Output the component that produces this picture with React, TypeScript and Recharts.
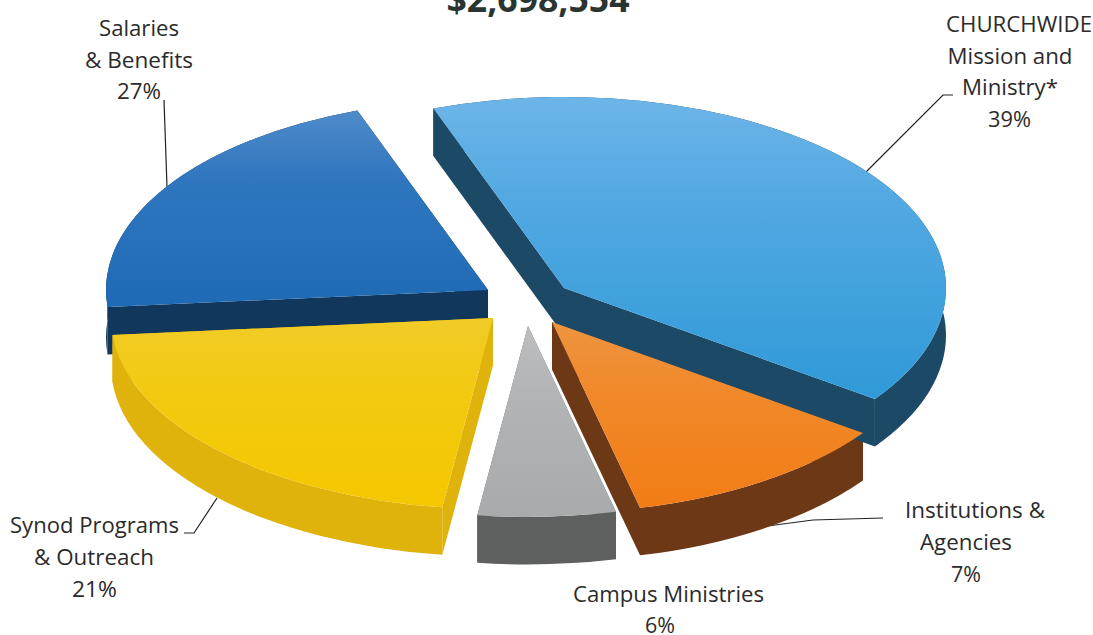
import React from 'react';
import { PieChart, Pie } from 'recharts';

// Wedge shares as drawn in the picture (their angles), kept apart from the printed percentages.
const categories = ['Salaries & Benefits', 'Synod Programs & Outreach', 'Campus Ministries', 'Institutions & Agencies', 'CHURCHWIDE Mission and Ministry*'];
const drawnShares = [20.8, 21.4, 5.8, 11.4, 40.3];
const printedPercents = ['27%', '21%', '6%', '7%', '39%'];
const title = '$2,698,554';

const apexX = [488, 493, 528, 552, 564];
const apexY = [290, 318, 326, 322, 288];
const topFrom = ['#4f8bca', '#f1cb28', '#bcbec0', '#ee9440', '#6db5e8'];
const topMid = ['#2f76bf', '#f3ca12', '#b2b4b6', '#f08a2c', '#52a8e2'];
const topTo = ['#1f6ab5', '#f4c700', '#a8aaac', '#f27c14', '#2f9ad8'];
const wallColors = ['#11385c', '#dfb20c', '#5e6060', '#6c3816', '#1c4966'];

const RADIUS = 382;
const SQUASH = 0.5;
const DEPTH = 47.5;
const rad = Math.PI / 180;

const tableData = categories.map((name, i) => ({ name, value: drawnShares[i], percent: printedPercents[i] }));

function geometry(props: any) {
  const i = props.index as number;
  const r = props.outerRadius as number;
  const ax = apexX[i];
  const ay = apexY[i];
  const pt = (a: number) => [ax + r * Math.cos(a * rad), ay - SQUASH * r * Math.sin(a * rad)];
  const s = pt(props.startAngle);
  const e = pt(props.endAngle);
  const large = props.endAngle - props.startAngle > 180 ? 1 : 0;
  return { i, r, ax, ay, s, e, large };
}

function TopFace(props: any) {
  const { i, r, ax, ay, s, e, large } = geometry(props);
  const d = `M${ax},${ay} L${s[0]},${s[1]} A${r},${r * SQUASH} 0 ${large} 0 ${e[0]},${e[1]} Z`;
  return <path d={d} fill={`url(#top${i})`} stroke="none" />;
}

function WallFace(props: any) {
  const { i, r, ax, ay, s, e, large } = geometry(props);
  const ry = r * SQUASH;
  const band = `M${s[0]},${s[1]} A${r},${ry} 0 ${large} 0 ${e[0]},${e[1]} L${e[0]},${e[1] + DEPTH} A${r},${ry} 0 ${large} 1 ${s[0]},${s[1] + DEPTH} Z`;
  const q1 = `M${ax},${ay} L${s[0]},${s[1]} L${s[0]},${s[1] + DEPTH} L${ax},${ay + DEPTH} Z`;
  const q2 = `M${ax},${ay} L${e[0]},${e[1]} L${e[0]},${e[1] + DEPTH} L${ax},${ay + DEPTH} Z`;
  return (
    <g fill={wallColors[i]} stroke="none">
      <path d={band} />
      <path d={q1} />
      <path d={q2} />
    </g>
  );
}

const labelLines = [
  { text: 'Salaries', x: 139, y: 36, w: 80 },
  { text: '& Benefits', x: 139, y: 68, w: 108 },
  { text: printedPercents[0], x: 139, y: 99, w: 44 },
  { text: 'Synod Programs', x: 94.5, y: 533, w: 169 },
  { text: '& Outreach', x: 94, y: 565, w: 120 },
  { text: printedPercents[1], x: 94.5, y: 597, w: 45 },
  { text: 'Campus Ministries', x: 668.5, y: 602, w: 191 },
  { text: printedPercents[2], x: 660, y: 633, w: 30 },
  { text: 'Institutions &', x: 975, y: 518, w: 140 },
  { text: 'Agencies', x: 966, y: 550, w: 92 },
  { text: printedPercents[3], x: 966, y: 582, w: 30 },
  { text: 'CHURCHWIDE', x: 1019, y: 32, w: 146 },
  { text: 'Mission and', x: 1010, y: 64, w: 125 },
  { text: 'Ministry*', x: 1010, y: 95, w: 96 },
  { text: printedPercents[4], x: 1009.5, y: 127, w: 43 },
];

const leaders = [
  '164,100 167,187',
  '953,95 943,95 866,172',
  '184,533 194,533 217,498',
  '883,518 813,520 760,527',
];

const font = '"Open Sans", "Noto Sans", sans-serif';

export default function App() {
  return (
    <div style={{ position: 'absolute', left: 0, top: 0, width: 1093, height: 635, overflow: 'hidden', background: '#fff' }}>
      <PieChart width={1093} height={635} margin={{ top: 0, right: 0, bottom: 0, left: 0 }}>
        <defs>
          {topFrom.map((c, i) => (
            <linearGradient key={i} id={`top${i}`} x1="0" y1="0" x2="0" y2="1">
              <stop offset="0%" stopColor={c} />
              <stop offset="35%" stopColor={topMid[i]} />
              <stop offset="100%" stopColor={topTo[i]} />
            </linearGradient>
          ))}
        </defs>
        <Pie data={tableData} dataKey="value" nameKey="name" cx={525} cy={300} outerRadius={RADIUS} innerRadius={0}
          startAngle={110} endAngle={470} paddingAngle={0} stroke="none" shape={WallFace} isAnimationActive={false} />
        <Pie data={tableData} dataKey="value" nameKey="name" cx={525} cy={300} outerRadius={RADIUS} innerRadius={0}
          startAngle={110} endAngle={470} paddingAngle={0} stroke="none" shape={TopFace} isAnimationActive={false} />
        {leaders.map((p, i) => (
          <polyline key={i} points={p} fill="none" stroke="#222" strokeWidth={1.2} />
        ))}
        {labelLines.map((l, i) => (
          <text key={i} x={l.x} y={l.y} textAnchor="middle" fontFamily={font} fontSize={22.5} fill="#2b2b2b"
            textLength={l.w} lengthAdjust="spacingAndGlyphs">{l.text}</text>
        ))}
        <text x={538} y={12} textAnchor="middle" fontFamily={font} fontSize={35} fontWeight={700} fill="#2a3532"
          textLength={183} lengthAdjust="spacingAndGlyphs">{title}</text>
      </PieChart>
    </div>
  );
}
